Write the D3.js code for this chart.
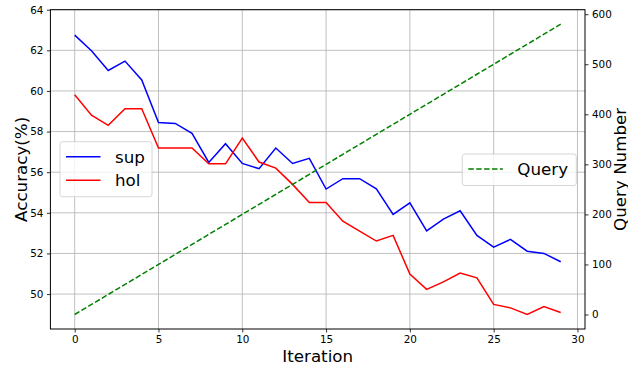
<!DOCTYPE html>
<html>
<head>
<meta charset="utf-8">
<script src="https://cdn.jsdelivr.net/npm/d3@7"></script>
<style>
  html, body { margin: 0; padding: 0; background: #fff; }
  svg { display: block; font-family: "DejaVu Sans", sans-serif; }
</style>
</head>
<body>
<svg id="chart" width="628" height="366"></svg>
<script>
// iterations 0..29
const iterations = [0, 1, 2, 3, 4, 5, 6, 7, 8, 9, 10, 11, 12, 13, 14, 15, 16, 17, 18, 19, 20, 21, 22, 23, 24, 25, 26, 27, 28, 29];
const supValues = [62.75, 61.98, 61.01, 61.47, 60.54, 58.45, 58.40, 57.91, 56.48, 57.40,
    56.43, 56.17, 57.19, 56.43, 56.68, 55.17, 55.68, 55.68, 55.18, 53.92,
    54.49, 53.11, 53.69, 54.10, 52.89, 52.31, 52.69, 52.11, 52.00, 51.59];
const holValues = [59.81, 58.81, 58.31, 59.12, 59.12, 57.19, 57.19, 57.19, 56.41, 56.41,
    57.68, 56.50, 56.20, 55.40, 54.51, 54.51, 53.59, 53.10, 52.61, 52.89,
    50.98, 50.23, 50.60, 51.03, 50.80, 49.49, 49.32, 49.00, 49.39, 49.09];
const queryValues = [0, 20, 40, 60, 80, 100, 120, 140, 160, 180, 200, 220, 240, 260, 280,
    300, 320, 340, 360, 380, 400, 420, 440, 460, 480, 500, 520, 540, 560, 580];
const xTicks = [0, 5, 10, 15, 20, 25, 30];
const accTicks = [50, 52, 54, 56, 58, 60, 62, 64];
const queryTicks = [0, 100, 200, 300, 400, 500, 600];

const svg = d3.select('#chart');
const plotLeft = 50.4, plotRight = 585, plotTop = 9.7, plotBottom = 329;
const TICK_FONT = '10.4px';
const LABEL_FONT = '16.7px';

const xScale = d3.scaleLinear().domain([-1.45, 30.45]).range([plotLeft, plotRight]);
const yAcc = d3.scaleLinear().domain([48.28, 64.0]).range([plotBottom, plotTop]);
const yQuery = d3.scaleLinear().domain([-29, 609]).range([plotBottom, plotTop]);

// Grid lines
const grid = svg.append('g').attr('class', 'grid');
grid.selectAll('.vgrid')
    .data(xTicks)
    .enter().append('line')
    .attr('x1', d => xScale(d)).attr('x2', d => xScale(d))
    .attr('y1', plotTop).attr('y2', plotBottom)
    .attr('stroke', '#b0b0b0').attr('stroke-width', 0.8);
grid.selectAll('.hgrid')
    .data(accTicks)
    .enter().append('line')
    .attr('x1', plotLeft).attr('x2', plotRight)
    .attr('y1', d => yAcc(d)).attr('y2', d => yAcc(d))
    .attr('stroke', '#b0b0b0').attr('stroke-width', 0.8);

// Lines
const plot = svg.append('g');
const accLine = values => d3.line()
    .x((d, i) => xScale(iterations[i]))
    .y(d => yAcc(d))(values);

plot.append('path')
    .attr('d', accLine(supValues))
    .attr('fill', 'none').attr('stroke', '#0000ff').attr('stroke-width', 1.5);
plot.append('path')
    .attr('d', accLine(holValues))
    .attr('fill', 'none').attr('stroke', '#ff0000').attr('stroke-width', 1.5);
plot.append('path')
    .attr('d', d3.line().x((d, i) => xScale(iterations[i])).y(d => yQuery(d))(queryValues))
    .attr('fill', 'none').attr('stroke', '#008000').attr('stroke-width', 1.5)
    .attr('stroke-dasharray', '5.5,2.4');

// Axes
const xAxis = svg.append('g')
    .attr('transform', `translate(0,${plotBottom})`)
    .call(d3.axisBottom(xScale).tickValues(xTicks).tickSize(3.5).tickPadding(3.5));
const leftAxis = svg.append('g')
    .attr('transform', `translate(${plotLeft},0)`)
    .call(d3.axisLeft(yAcc).tickValues(accTicks).tickSize(3.5).tickPadding(3.5));
const rightAxis = svg.append('g')
    .attr('transform', `translate(${plotRight},0)`)
    .call(d3.axisRight(yQuery).tickValues(queryTicks).tickSize(3.5).tickPadding(3.5));

[xAxis, leftAxis, rightAxis].forEach(ax => {
    ax.select('.domain').remove();
    ax.selectAll('text')
        .attr('font-family', '"DejaVu Sans", sans-serif')
        .attr('font-size', TICK_FONT)
        .attr('fill', '#000');
    ax.selectAll('line').attr('stroke', '#000').attr('stroke-width', 0.8);
});

// Axes frame
svg.append('rect')
    .attr('x', plotLeft).attr('y', plotTop)
    .attr('width', plotRight - plotLeft).attr('height', plotBottom - plotTop)
    .attr('fill', 'none').attr('stroke', '#000').attr('stroke-width', 1);

// Axis titles
svg.append('text')
    .attr('x', (plotLeft + plotRight) / 2).attr('y', 361.5)
    .attr('text-anchor', 'middle')
    .attr('font-size', LABEL_FONT)
    .text('Iteration');
svg.append('text')
    .attr('transform', `translate(26.5,${(plotTop + plotBottom) / 2}) rotate(-90)`)
    .attr('text-anchor', 'middle')
    .attr('font-size', LABEL_FONT)
    .text('Accuracy(%)');
svg.append('text')
    .attr('transform', `translate(625.5,${(plotTop + plotBottom) / 2}) rotate(-90)`)
    .attr('text-anchor', 'middle')
    .attr('font-size', LABEL_FONT)
    .text('Query Number');

// Legends
function legend(x, y, w, items) {
    const h = items.length * 23.5 + 8;
    const g = svg.append('g').attr('transform', `translate(${x},${y})`);
    g.append('rect')
        .attr('width', w).attr('height', h)
        .attr('rx', 2.5)
        .attr('fill', 'rgba(255,255,255,0.8)')
        .attr('stroke', '#cccccc').attr('stroke-width', 0.8);
    items.forEach((item, i) => {
        const cy = 15 + i * 23.5;
        g.append('line')
            .attr('x1', 6).attr('x2', 40.5)
            .attr('y1', cy).attr('y2', cy)
            .attr('stroke', item.color).attr('stroke-width', 1.5)
            .attr('stroke-dasharray', item.dash || null);
        g.append('text')
            .attr('x', 55).attr('y', cy + 6)
            .attr('font-size', LABEL_FONT)
            .text(item.label);
    });
}
legend(60, 141.7, 92, [
    { label: 'sup', color: '#0000ff' },
    { label: 'hol', color: '#ff0000' },
]);
legend(462.3, 154, 114, [
    { label: 'Query', color: '#008000', dash: '5.5,2.4' },
]);
</script>
</body>
</html>
